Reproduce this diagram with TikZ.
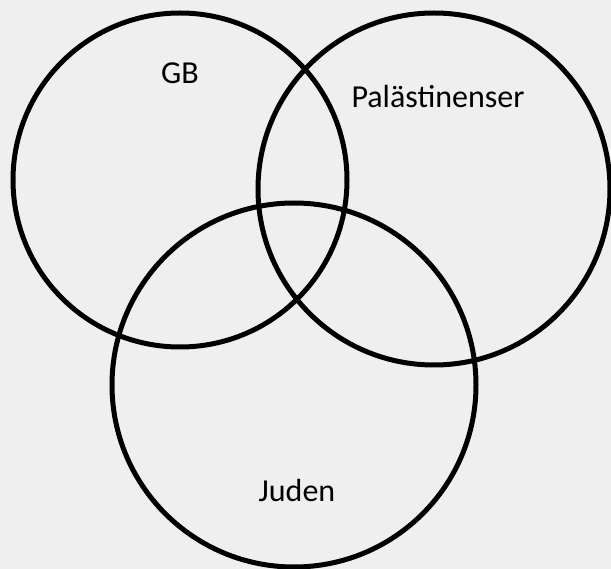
\documentclass[tikz,border=0pt]{standalone}
\usepackage{fontspec}
\setmainfont{Carlito}
\usetikzlibrary{positioning}
\definecolor{bggray}{RGB}{239,239,239}
\tikzset{
  px/.style={x=1pt, y=-1pt},
  % the three sets
  venn/.style={circle, draw=black, line width=5pt, inner sep=0pt},
  setlabel/.style={font=\fontsize{32}{38}\selectfont, inner sep=0pt},
}
\begin{document}
\begin{tikzpicture}[px]
  \useasboundingbox[fill=bggray] (0,0) rectangle (611,569);
  \node[venn, minimum size=334pt] (gb) at (180,180) {};
  \node[venn, minimum size=352pt] (pal) at (434,189) {};
  \node[venn, minimum size=364pt] (jud) at (294,385) {};
  % labels
  \node[setlabel] (gblabel) at (180,73) {GB};
  \node[setlabel] (pallabel) at (438,97) {Palästinenser};
  \node[setlabel] (judlabel) at (297,491) {Juden};
\end{tikzpicture}
\end{document}
